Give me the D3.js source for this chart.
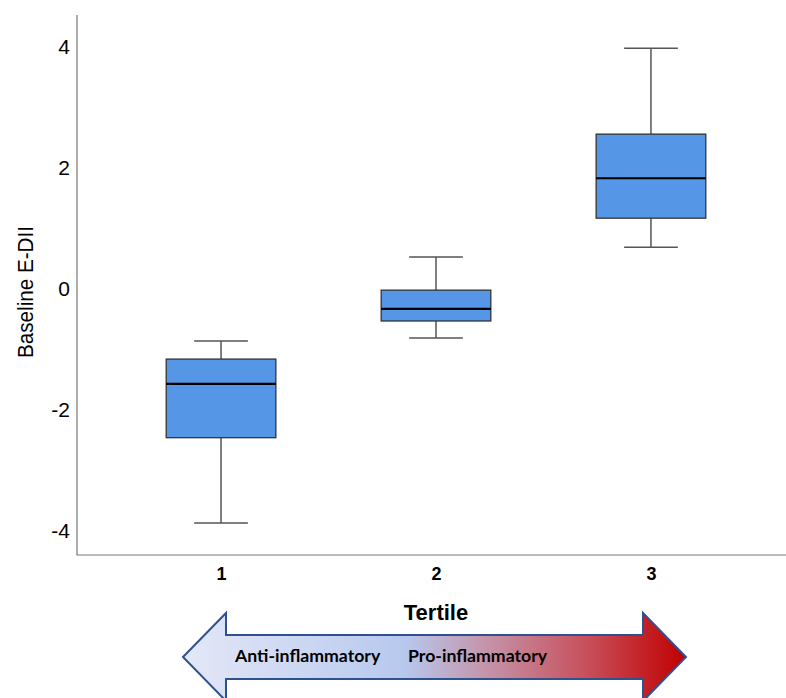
<!DOCTYPE html>
<html>
<head>
<meta charset="utf-8">
<script src="https://cdn.jsdelivr.net/npm/d3@7"></script>
<style>
  body { margin: 0; background: #fff; }
  svg { display: block; }
</style>
</head>
<body>
<script>
// tertile box plot values
const categories = ["1", "2", "3"];
const whiskerLow = [-3.87, -0.81, 0.69];
const q1 = [-2.46, -0.53, 1.17];
const medians = [-1.57, -0.33, 1.83];
const q3 = [-1.16, -0.02, 2.56];
const whiskerHigh = [-0.86, 0.53, 3.98];
const yTicks = [-4, -2, 0, 2, 4];

const width = 786, height = 698;
const svg = d3.select("body").append("svg")
    .attr("width", width)
    .attr("height", height);

const plotLeft = 77, plotTop = 15, plotBottom = 555;

const xScale = d3.scalePoint()
    .domain(categories)
    .range([plotLeft, 795])
    .padding(0.67);

const yScale = d3.scaleLinear()
    .domain([-4.4, 4.53])
    .range([plotBottom, plotTop]);

const data = categories.map((c, i) => ({
    cat: c, lo: whiskerLow[i], q1: q1[i], med: medians[i], q3: q3[i], hi: whiskerHigh[i]
}));

const boxW = xScale.step() * 0.51;
const capW = boxW * 0.49;

// axes (no tick marks, SPSS style)
const yAxis = d3.axisLeft(yScale).tickValues(yTicks).tickSize(0).tickPadding(7)
    .tickFormat(d => d < 0 ? "-" + Math.abs(d) : d);
const gy = svg.append("g")
    .attr("transform", "translate(" + plotLeft + ",0)")
    .call(yAxis);
gy.select(".domain").remove();
gy.selectAll("text")
    .attr("font-family", "Liberation Sans, Arial, sans-serif")
    .attr("font-size", 21)
    .attr("fill", "#000");

const xAxis = d3.axisBottom(xScale).tickSize(0).tickPadding(12);
const gx = svg.append("g")
    .attr("transform", "translate(0," + plotBottom + ")")
    .call(xAxis);
gx.select(".domain").remove();
gx.selectAll("text")
    .attr("font-family", "Liberation Sans, Arial, sans-serif")
    .attr("font-size", 18)
    .attr("font-weight", "bold")
    .attr("fill", "#000");

svg.append("path")
    .attr("d", "M" + plotLeft + "," + plotTop + "V" + plotBottom + "H" + width)
    .attr("fill", "none")
    .attr("stroke", "#777")
    .attr("stroke-width", 1.2);

// boxes
const g = svg.selectAll(".box")
    .data(data)
    .enter()
    .append("g")
    .attr("class", "box");

g.append("line")
    .attr("x1", d => xScale(d.cat)).attr("x2", d => xScale(d.cat))
    .attr("y1", d => yScale(d.hi)).attr("y2", d => yScale(d.q3))
    .attr("stroke", "#555").attr("stroke-width", 1.5);
g.append("line")
    .attr("x1", d => xScale(d.cat)).attr("x2", d => xScale(d.cat))
    .attr("y1", d => yScale(d.q1)).attr("y2", d => yScale(d.lo))
    .attr("stroke", "#555").attr("stroke-width", 1.5);
g.append("line")
    .attr("x1", d => xScale(d.cat) - capW / 2).attr("x2", d => xScale(d.cat) + capW / 2)
    .attr("y1", d => yScale(d.hi)).attr("y2", d => yScale(d.hi))
    .attr("stroke", "#555").attr("stroke-width", 1.5);
g.append("line")
    .attr("x1", d => xScale(d.cat) - capW / 2).attr("x2", d => xScale(d.cat) + capW / 2)
    .attr("y1", d => yScale(d.lo)).attr("y2", d => yScale(d.lo))
    .attr("stroke", "#555").attr("stroke-width", 1.5);

g.append("rect")
    .attr("x", d => xScale(d.cat) - boxW / 2)
    .attr("y", d => yScale(d.q3))
    .attr("width", boxW)
    .attr("height", d => yScale(d.q1) - yScale(d.q3))
    .attr("fill", "#5596e6")
    .attr("stroke", "#333")
    .attr("stroke-width", 1.3);

g.append("line")
    .attr("x1", d => xScale(d.cat) - boxW / 2).attr("x2", d => xScale(d.cat) + boxW / 2)
    .attr("y1", d => yScale(d.med)).attr("y2", d => yScale(d.med))
    .attr("stroke", "#000").attr("stroke-width", 2.2);

// axis titles
svg.append("text")
    .attr("transform", "translate(33," + ((plotTop + plotBottom) / 2 + 7) + ") rotate(-90)")
    .attr("text-anchor", "middle")
    .attr("font-family", "Liberation Sans, Arial, sans-serif")
    .attr("font-size", 22)
    .attr("textLength", 132)
    .attr("lengthAdjust", "spacingAndGlyphs")
    .text("Baseline E-DII");

svg.append("text")
    .attr("x", xScale("2"))
    .attr("y", 620)
    .attr("text-anchor", "middle")
    .attr("font-family", "Liberation Sans, Arial, sans-serif")
    .attr("font-size", 22)
    .attr("font-weight", "bold")
    .text("Tertile");

// double arrow below
const defs = svg.append("defs");
const grad = defs.append("linearGradient")
    .attr("id", "arrowGrad")
    .attr("x1", "0%").attr("x2", "100%").attr("y1", "0%").attr("y2", "0%");
grad.append("stop").attr("offset", "0%").attr("stop-color", "#e4e8f7");
grad.append("stop").attr("offset", "44%").attr("stop-color", "#b7c8ee");
grad.append("stop").attr("offset", "60%").attr("stop-color", "#c495ab");
grad.append("stop").attr("offset", "80%").attr("stop-color", "#c8505c");
grad.append("stop").attr("offset", "100%").attr("stop-color", "#c00000");

const ax0 = 183, ax1 = 686, hb0 = 226, hb1 = 643, cy = 657, sh = 22, hh = 44;
svg.append("path")
    .attr("d", [
        "M", ax0, cy,
        "L", hb0, cy - hh,
        "L", hb0, cy - sh,
        "L", hb1, cy - sh,
        "L", hb1, cy - hh,
        "L", ax1, cy,
        "L", hb1, cy + hh,
        "L", hb1, cy + sh,
        "L", hb0, cy + sh,
        "L", hb0, cy + hh,
        "Z"].join(" "))
    .attr("fill", "url(#arrowGrad)")
    .attr("stroke", "#2f528f")
    .attr("stroke-width", 2);

svg.append("text")
    .attr("x", 235).attr("y", 662)
    .attr("font-family", "Lato, Open Sans, sans-serif")
    .attr("font-size", 17.7)
    .attr("font-weight", "bold")
    .text("Anti-inflammatory");
svg.append("text")
    .attr("x", 408).attr("y", 662)
    .attr("font-family", "Lato, Open Sans, sans-serif")
    .attr("font-size", 17.7)
    .attr("font-weight", "bold")
    .text("Pro-inflammatory");
</script>
</body>
</html>
